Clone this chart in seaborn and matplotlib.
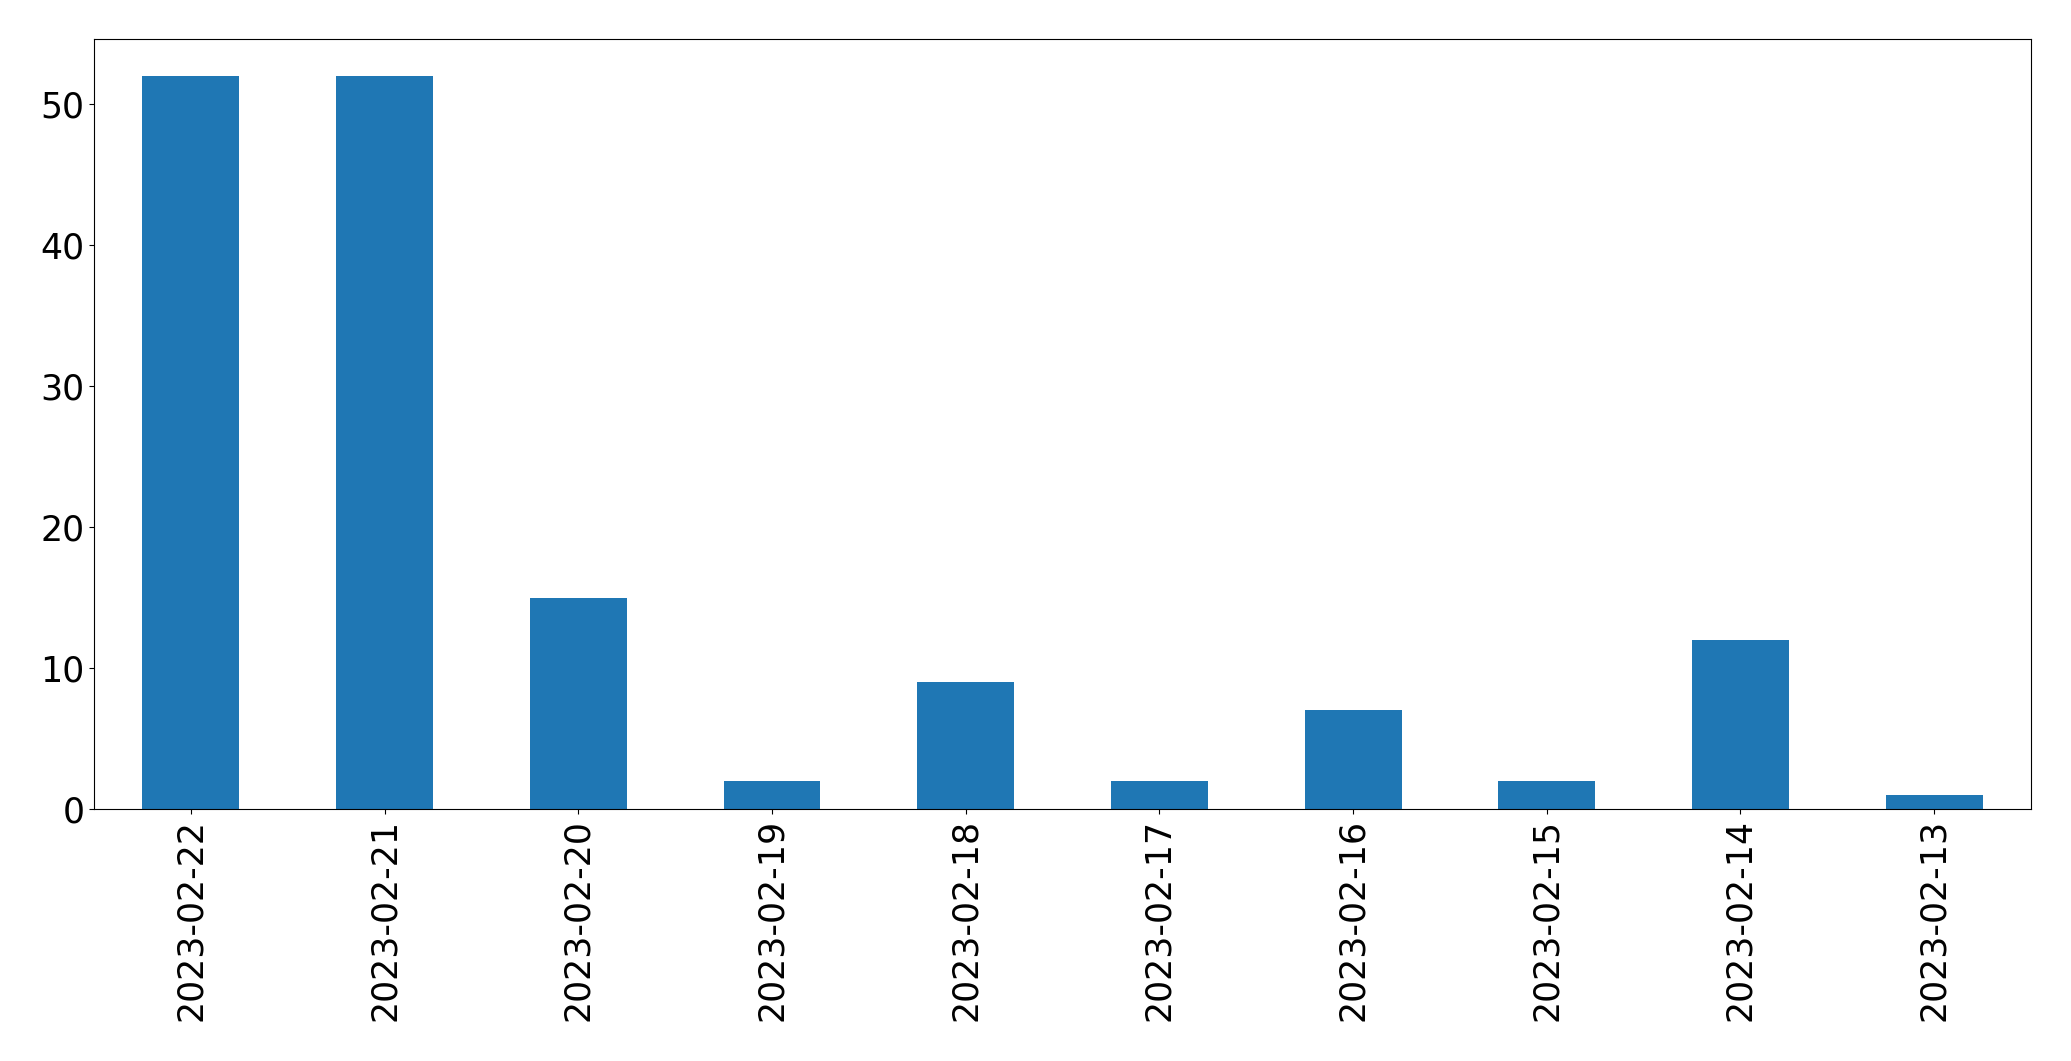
import pandas as pd
import seaborn as sns
from matplotlib import pyplot as plt

dates = ['2023-02-22', '2023-02-21', '2023-02-20', '2023-02-19', '2023-02-18',
         '2023-02-17', '2023-02-16', '2023-02-15', '2023-02-14', '2023-02-13']
counts = [52, 52, 15, 2, 9, 2, 7, 2, 12, 1]

df = pd.DataFrame({'date': dates, 'count': counts})

fig, ax = plt.subplots(figsize=(20.71, 10.61), dpi=100)
sns.barplot(data=df, x='date', y='count', order=dates, color='#1f77b4',
            saturation=1, width=0.5, ax=ax)
ax.set_xlim(-0.5, len(dates) - 0.5)
ax.set_xlabel('')
ax.set_ylabel('')
ax.tick_params(axis='both', labelsize=25)
plt.xticks(rotation=90)
plt.subplots_adjust(left=0.0454, right=0.9807, top=0.963, bottom=0.2375)
plt.savefig('out.png', dpi=100)
